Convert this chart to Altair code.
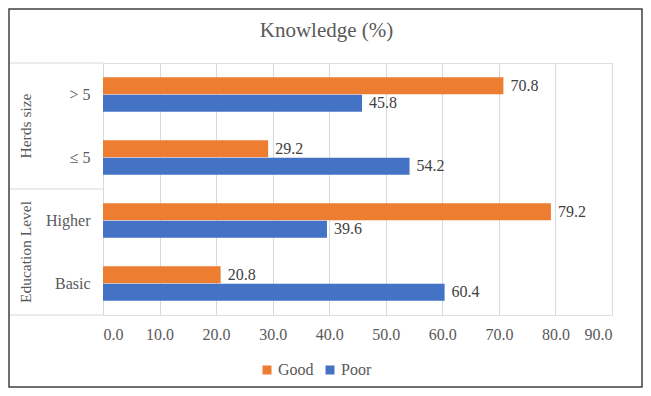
import altair as alt
import pandas as pd

categories = ["> 5", "≤ 5", "Higher", "Basic"]
groups = ["Herds size", "Herds size", "Education Level", "Education Level"]
series = ["Good", "Poor"]
good = [70.8, 29.2, 79.2, 20.8]
poor = [45.8, 54.2, 39.6, 60.4]
x_ticks = [0, 10, 20, 30, 40, 50, 60, 70, 80, 90]
colors = ["#ED7D31", "#4472C4"]
title_text = "Knowledge (%)"

rows = []
for c, g, gv, pv in zip(categories, groups, good, poor):
    rows.append({"category": c, "group": g, "series": "Good", "value": gv})
    rows.append({"category": c, "group": g, "series": "Poor", "value": pv})
df = pd.DataFrame(rows)

group_df = pd.DataFrame({"category": ["> 5", "Higher"], "group": ["Herds size", "Education Level"]})
sep_top = pd.DataFrame({"category": ["> 5", "Higher"]})
sep_bottom = pd.DataFrame({"category": ["Basic"]})
frame_df = pd.DataFrame({"k": [0]})
title_df = pd.DataFrame({"t": [title_text]})

FONT = "Liberation Serif"
GRAY = "#595959"
W, H = 509, 252
PAD = {"left": 95, "top": 55, "right": 31, "bottom": 73}

y_enc = alt.Y(
    "category:N", sort=categories,
    scale=alt.Scale(paddingInner=0, paddingOuter=0),
    axis=alt.Axis(title=None, labelFontSize=16, labelFont=FONT, labelColor=GRAY,
                  labelPadding=13, ticks=False, domainColor="#D9D9D9", grid=False),
)
yoff = alt.YOffset("series:N", sort=series,
                   scale=alt.Scale(paddingOuter=0.8, paddingInner=0.04))
x_enc = alt.X(
    "value:Q", scale=alt.Scale(domain=[0, 90], nice=False),
    axis=alt.Axis(values=x_ticks, format=".1f", title=None, grid=True, gridColor="#D9D9D9",
                  domain=False, ticks=False, labelPadding=11, labelFontSize=16,
                  labelFont=FONT, labelColor=GRAY),
)

bars = alt.Chart(df).mark_bar().encode(
    y=y_enc, yOffset=yoff, x=x_enc,
    color=alt.Color("series:N", scale=alt.Scale(domain=series, range=colors),
                    legend=alt.Legend(orient="none", legendX=156, legendY=299, direction="horizontal",
                                      title=None, symbolType="square", symbolSize=81,
                                      labelFontSize=16, labelFont=FONT, labelColor=GRAY,
                                      labelOffset=3, columnPadding=8, symbolStrokeWidth=0)),
)

labels = alt.Chart(df).mark_text(align="left", baseline="middle", dx=7, fontSize=16,
                                 font=FONT, color="#404040").encode(
    y=alt.Y("category:N", sort=categories), yOffset=alt.YOffset("series:N", sort=series),
    x="value:Q", text=alt.Text("value:Q", format=".1f"),
)

group_text = alt.Chart(group_df).mark_text(angle=270, align="center", baseline="middle",
                                           fontSize=15.5, font=FONT, color=GRAY).encode(
    y=alt.Y("category:N", sort=categories, bandPosition=1),
    x=alt.value(-77), text="group:N",
)

rule_top = alt.Chart(sep_top).mark_rule(color="#D9D9D9", strokeWidth=1).encode(
    y=alt.Y("category:N", sort=categories, bandPosition=0),
    x=alt.value(-93), x2=alt.value(0),
)
rule_bottom = alt.Chart(sep_bottom).mark_rule(color="#D9D9D9", strokeWidth=1).encode(
    y=alt.Y("category:N", sort=categories, bandPosition=1),
    x=alt.value(-93), x2=alt.value(0),
)

frame = alt.Chart(frame_df).mark_rect(filled=False, stroke="#404040", strokeWidth=1.5).encode(
    x=alt.value(-PAD["left"] + 1), x2=alt.value(W + PAD["right"] - 1),
    y=alt.value(-PAD["top"] + 1), y2=alt.value(H + PAD["bottom"] - 1),
)

title = alt.Chart(title_df).mark_text(align="center", baseline="alphabetic", fontSize=21,
                                      font=FONT, color=GRAY).encode(
    x=alt.value(W / 2 - 31), y=alt.value(-26), text="t:N",
)

chart = alt.layer(bars, labels, group_text, rule_top, rule_bottom, frame, title).properties(
    width=W, height=H, padding=PAD, autosize=alt.AutoSizeParams(type="none"),
).configure_view(stroke=None).configure(font=FONT)

chart.save("out.html", embed_options={"renderer": "svg", "actions": False})
